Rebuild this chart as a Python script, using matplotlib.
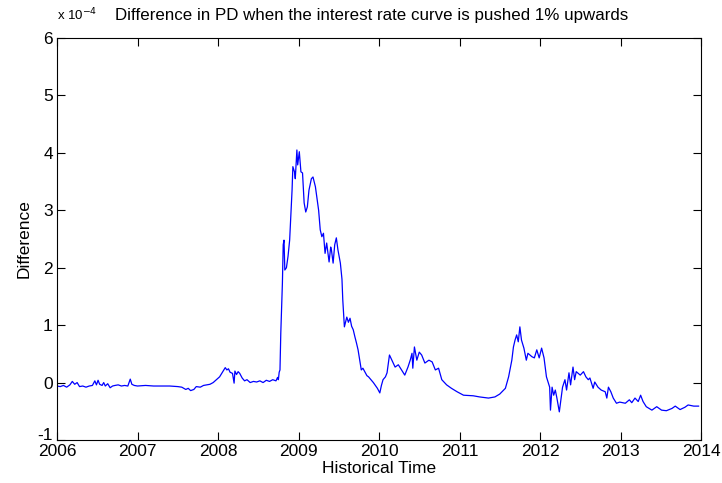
import matplotlib
matplotlib.use("Agg")
import matplotlib.pyplot as plt
import matplotlib.transforms as mtransforms
import numpy as np

plt.rcParams['font.family'] = ['Liberation Sans', 'DejaVu Sans']

# time (years) and difference in PD (units of 1e-4)
years = [
    2006.00, 2006.04, 2006.08, 2006.12, 2006.16, 2006.19, 2006.22, 2006.25, 2006.28, 2006.32,
    2006.36, 2006.40, 2006.44, 2006.47, 2006.49, 2006.51, 2006.53, 2006.56, 2006.58, 2006.60,
    2006.63, 2006.66, 2006.69, 2006.72, 2006.76, 2006.80, 2006.84, 2006.88, 2006.91, 2006.93,
    2006.96, 2007.00, 2007.10, 2007.20, 2007.30, 2007.40, 2007.50, 2007.55, 2007.60, 2007.63,
    2007.66, 2007.70, 2007.73, 2007.78, 2007.82, 2007.86, 2007.90, 2007.94, 2007.98, 2008.02,
    2008.06, 2008.09, 2008.11, 2008.13, 2008.15, 2008.18, 2008.20, 2008.21, 2008.23, 2008.25,
    2008.27, 2008.30, 2008.33, 2008.36, 2008.40, 2008.44, 2008.48, 2008.52, 2008.56, 2008.60,
    2008.64, 2008.68, 2008.72, 2008.74, 2008.75, 2008.76, 2008.77, 2008.78, 2008.80, 2008.81,
    2008.82, 2008.83, 2008.85, 2008.87, 2008.89, 2008.90, 2008.92, 2008.93, 2008.95, 2008.96,
    2008.98, 2008.99, 2009.01, 2009.03, 2009.05, 2009.07, 2009.09, 2009.11, 2009.13, 2009.16,
    2009.18, 2009.21, 2009.23, 2009.25, 2009.27, 2009.29, 2009.31, 2009.33, 2009.35, 2009.38,
    2009.40, 2009.41, 2009.43, 2009.45, 2009.47, 2009.49, 2009.52, 2009.54, 2009.55, 2009.57,
    2009.60, 2009.62, 2009.64, 2009.66, 2009.68, 2009.70, 2009.72, 2009.74, 2009.76, 2009.78,
    2009.80, 2009.83, 2009.85, 2009.87, 2009.90, 2009.93, 2009.95, 2009.98, 2010.01, 2010.03,
    2010.05, 2010.08, 2010.10, 2010.13, 2010.16, 2010.20, 2010.24, 2010.28, 2010.32, 2010.36,
    2010.39, 2010.41, 2010.42, 2010.44, 2010.47, 2010.50, 2010.53, 2010.57, 2010.62, 2010.66,
    2010.70, 2010.74, 2010.78, 2010.84, 2010.90, 2010.97, 2011.05, 2011.17, 2011.25, 2011.36,
    2011.44, 2011.50, 2011.57, 2011.61, 2011.65, 2011.67, 2011.69, 2011.71, 2011.73, 2011.75,
    2011.77, 2011.80, 2011.83, 2011.85, 2011.90, 2011.93, 2011.96, 2011.99, 2012.02, 2012.05,
    2012.08, 2012.12, 2012.13, 2012.15, 2012.17, 2012.19, 2012.21, 2012.24, 2012.26, 2012.28,
    2012.31, 2012.33, 2012.36, 2012.38, 2012.41, 2012.43, 2012.45, 2012.50, 2012.54, 2012.57,
    2012.60, 2012.62, 2012.66, 2012.68, 2012.72, 2012.76, 2012.81, 2012.83, 2012.85, 2012.88,
    2012.91, 2012.95, 2012.99, 2013.06, 2013.11, 2013.14, 2013.18, 2013.22, 2013.25, 2013.28,
    2013.32, 2013.39, 2013.45, 2013.51, 2013.57, 2013.64, 2013.68, 2013.74, 2013.80, 2013.84,
    2013.91, 2013.97,
]
difference = [
    -0.06, -0.07, -0.05, -0.08, -0.04, 0.02, -0.03, 0.00, -0.07, -0.06,
    -0.08, -0.06, -0.05, 0.03, -0.04, 0.04, -0.03, -0.05, 0.00, -0.06,
    -0.02, -0.09, -0.06, -0.05, -0.04, -0.06, -0.05, -0.06, 0.06, -0.03,
    -0.05, -0.06, -0.05, -0.06, -0.06, -0.06, -0.07, -0.08, -0.12, -0.10,
    -0.14, -0.12, -0.07, -0.08, -0.05, -0.04, -0.03, 0.00, 0.05, 0.10,
    0.19, 0.26, 0.22, 0.24, 0.18, 0.16, -0.01, 0.20, 0.14, 0.19,
    0.16, 0.08, 0.03, 0.05, 0.00, 0.02, 0.01, 0.03, 0.00, 0.04,
    0.02, 0.05, 0.03, 0.09, 0.05, 0.18, 0.22, 0.86, 1.73, 2.40,
    2.48, 1.96, 2.00, 2.20, 2.48, 2.78, 3.35, 3.76, 3.67, 3.55,
    4.05, 3.79, 4.02, 3.67, 3.65, 3.13, 2.97, 3.06, 3.35, 3.55,
    3.58, 3.41, 3.20, 3.00, 2.66, 2.54, 2.60, 2.25, 2.43, 2.10,
    2.36, 2.30, 2.08, 2.40, 2.52, 2.31, 2.08, 1.80, 1.44, 0.97,
    1.14, 1.05, 1.12, 0.98, 0.92, 0.80, 0.69, 0.57, 0.40, 0.22,
    0.25, 0.17, 0.12, 0.10, 0.05, 0.00, -0.04, -0.10, -0.18, -0.05,
    0.05, 0.10, 0.17, 0.48, 0.39, 0.27, 0.31, 0.22, 0.13, 0.27,
    0.40, 0.51, 0.25, 0.62, 0.39, 0.53, 0.48, 0.34, 0.39, 0.36,
    0.22, 0.25, 0.05, -0.04, -0.10, -0.16, -0.22, -0.23, -0.25, -0.27,
    -0.25, -0.20, -0.10, 0.10, 0.39, 0.62, 0.74, 0.83, 0.71, 0.97,
    0.74, 0.60, 0.39, 0.51, 0.45, 0.43, 0.57, 0.43, 0.60, 0.43,
    0.10, -0.08, -0.48, -0.08, -0.22, -0.13, -0.27, -0.51, -0.30, -0.08,
    0.05, -0.13, 0.17, -0.04, 0.27, 0.05, 0.19, 0.13, 0.19, 0.10,
    0.05, 0.08, -0.10, 0.01, -0.08, -0.13, -0.16, -0.27, -0.08, -0.16,
    -0.27, -0.36, -0.34, -0.36, -0.30, -0.35, -0.27, -0.33, -0.22, -0.33,
    -0.42, -0.48, -0.42, -0.48, -0.49, -0.45, -0.41, -0.47, -0.43, -0.39,
    -0.41, -0.41,
]

xticks = [2006, 2007, 2008, 2009, 2010, 2011, 2012, 2013, 2014]
yticks = [-1, 0, 1, 2, 3, 4, 5, 6]

fig = plt.figure(figsize=(7.22, 4.83), dpi=100)
ax = fig.add_axes([57/722, 43/483, 644/722, 402/483])
ax.plot(years, difference, color=(0, 0, 1), linewidth=0.9)
ax.set_xlim(2006, 2014)
ax.set_ylim(-1, 6)
ax.set_xticks(xticks)
ax.set_xticklabels([str(t) for t in xticks])
ax.set_yticks(yticks)
ax.set_yticklabels([str(t) for t in yticks])
ax.tick_params(direction='in', length=6, width=0.8, top=True, right=True,
               labelsize=12.5, pad=3)
for s in ax.spines.values():
    s.set_linewidth(0.8)

# lift the bottom y tick label a little, as in the reference
lbl = ax.get_yticklabels()[0]
lbl.set_transform(lbl.get_transform() +
                  mtransforms.ScaledTranslation(0, 6/100, fig.dpi_scale_trans))

ax.set_xlabel('Historical Time', fontsize=12.5, labelpad=1)
ax.set_ylabel('Difference', fontsize=12.5, labelpad=4)
base_y = 1 - 20/483
fig.text(57/722, base_y, r'x 10$^{-4}$', fontsize=9.5, ha='left', va='baseline')
fig.text(372/722, base_y, 'Difference in PD when the interest rate curve is pushed 1% upwards',
         ha='center', va='baseline', fontsize=12.2)
fig.savefig('out.png', dpi=100)
